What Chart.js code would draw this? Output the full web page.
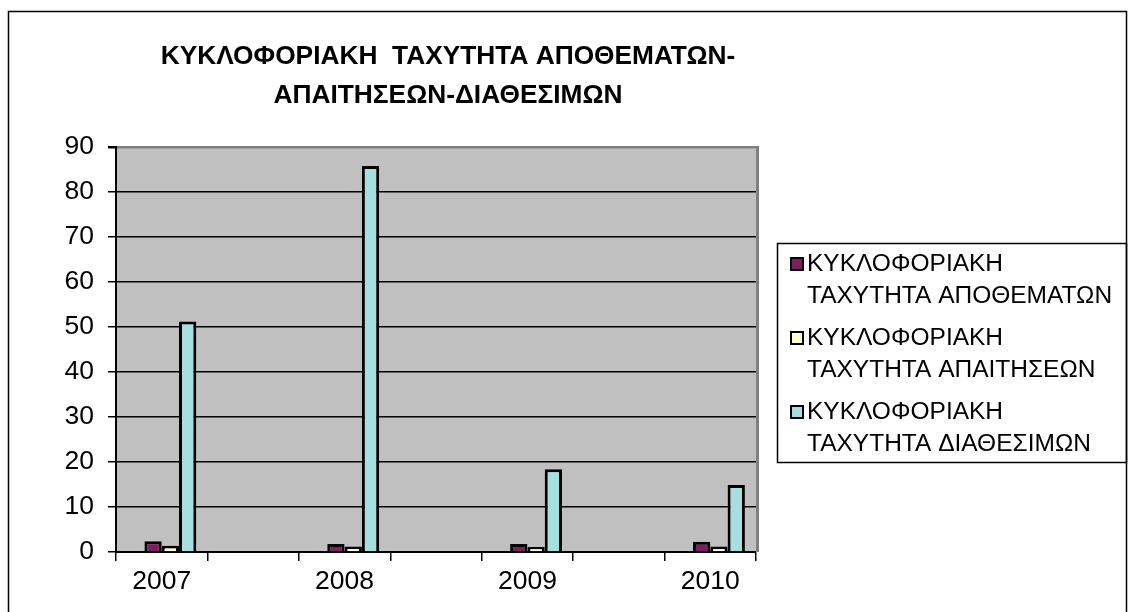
<!DOCTYPE html>
<html>
<head>
<meta charset="utf-8">
<script src="https://cdn.jsdelivr.net/npm/chart.js@4.4.1/dist/chart.umd.min.js"></script>
<style>
  body { margin: 0; background: #fff; }
  #wrap { width: 1130px; height: 612px; position: relative; }
</style>
</head>
<body>
<div id="wrap"><canvas id="chart"></canvas></div>
<script>
const years = ['2007', '', '2008', '', '2009', '', '2010'];
const emptySeries = [0, null, 0, null, 0, null, 0];
const apothemata = [2.4, null, 1.8, null, 1.8, null, 2.3];
const apaitiseis = [1.4, null, 1.2, null, 1.1, null, 1.2];
const diathesima = [51.2, null, 85.8, null, 18.4, null, 14.9];
const yTicks = [0, 10, 20, 30, 40, 50, 60, 70, 80, 90];

const titleLines = ['ΚΥΚΛΟΦΟΡΙΑΚΗ  ΤΑΧΥΤΗΤΑ ΑΠΟΘΕΜΑΤΩΝ-', 'ΑΠΑΙΤΗΣΕΩΝ-ΔΙΑΘΕΣΙΜΩΝ'];
const legendLines = [
  ['ΚΥΚΛΟΦΟΡΙΑΚΗ', 'ΤΑΧΥΤΗΤΑ ΑΠΟΘΕΜΑΤΩΝ'],
  ['ΚΥΚΛΟΦΟΡΙΑΚΗ', 'ΤΑΧΥΤΗΤΑ ΑΠΑΙΤΗΣΕΩΝ'],
  ['ΚΥΚΛΟΦΟΡΙΑΚΗ', 'ΤΑΧΥΤΗΤΑ ΔΙΑΘΕΣΙΜΩΝ']
];

const FONT = '"Liberation Sans", Arial, sans-serif';

const frame = {
  id: 'frame',
  beforeDraw(chart) {
    const ctx = chart.ctx;
    const a = chart.chartArea;
    ctx.save();
    ctx.fillStyle = '#fff';
    ctx.fillRect(0, 0, chart.width, chart.height);
    ctx.fillStyle = '#c0c0c0';
    ctx.fillRect(a.left, a.top, a.right - a.left, a.bottom - a.top);
    ctx.restore();
  },
  afterDraw(chart) {
    const ctx = chart.ctx;
    const a = chart.chartArea;
    ctx.save();
    // right edge of the plot
    ctx.strokeStyle = '#808080';
    ctx.lineWidth = 3;
    ctx.beginPath();
    ctx.moveTo(a.right + 1.5, a.top - 1);
    ctx.lineTo(a.right + 1.5, a.bottom);
    ctx.stroke();

    // outer frame
    ctx.strokeStyle = '#000';
    ctx.lineWidth = 1.5;
    ctx.strokeRect(8.5, 11.5, 1118, 620);

    // title
    ctx.fillStyle = '#000';
    ctx.textAlign = 'center';
    ctx.textBaseline = 'middle';
    ctx.font = 'bold 26.3px ' + FONT;
    titleLines.forEach((t, i) => ctx.fillText(t, 448, 57 + i * 39));

    // legend
    ctx.strokeRect(777.5, 243.5, 349, 219);
    ctx.font = '24.5px ' + FONT;
    ctx.textAlign = 'left';
    let row = 0;
    chart.data.datasets.forEach(ds => {
      if (!ds.lines) return;
      const y = 264 + row * 74;
      ctx.fillStyle = ds.backgroundColor;
      ctx.fillRect(791, y - 6, 12, 12);
      ctx.lineWidth = 2;
      ctx.strokeStyle = '#000';
      ctx.strokeRect(791, y - 6, 12, 12);
      ctx.fillStyle = '#000';
      ds.lines.forEach((l, j) => ctx.fillText(l, 807, y + j * 32));
      row++;
    });
    ctx.restore();
  }
};

new Chart(document.getElementById('chart'), {
  type: 'bar',
  data: {
    labels: years,
    datasets: [
      { label: '', data: emptySeries, backgroundColor: '#9999ff', borderWidth: 0 },
      { label: legendLines[0].join(' '), lines: legendLines[0], data: apothemata, backgroundColor: '#7e1e5e' },
      { label: legendLines[1].join(' '), lines: legendLines[1], data: apaitiseis, backgroundColor: '#ffffcc' },
      { label: legendLines[2].join(' '), lines: legendLines[2], data: diathesima, backgroundColor: '#a5dfdf' }
    ]
  },
  options: {
    responsive: true,
    maintainAspectRatio: false,
    animation: false,
    layout: { padding: { left: 20, top: 147, right: 374, bottom: 0 } },
    datasets: {
      bar: {
        borderColor: '#000',
        borderWidth: 3,
        categoryPercentage: 0.757,
        barPercentage: 1.0
      }
    },
    plugins: {
      legend: { display: false },
      tooltip: { enabled: false }
    },
    scales: {
      x: {
        afterFit: s => { s.height = 60; },
        grid: {
          offset: true,
          drawOnChartArea: false,
          color: '#000',
          lineWidth: 1.5,
          tickLength: 9
        },
        border: { color: '#000', width: 2 },
        ticks: {
          autoSkip: false,
          maxRotation: 0,
          padding: 5,
          color: '#000',
          font: { family: FONT, size: 26.5 }
        }
      },
      y: {
        min: 0,
        max: 90,
        afterFit: s => { s.width = 96; },
        afterBuildTicks: s => { s.ticks = yTicks.map(v => ({ value: v })); },
        grid: {
          color: c => (c.tick && c.tick.value === 90 ? '#808080' : '#000'),
          lineWidth: c => (c.tick && c.tick.value === 90 ? 2.5 : 1.5),
          tickColor: '#000',
          tickLength: 8
        },
        border: { color: '#000', width: 2 },
        ticks: {
          padding: 14,
          color: '#000',
          font: { family: FONT, size: 26.5 }
        }
      }
    }
  },
  plugins: [frame]
});
</script>
</body>
</html>
